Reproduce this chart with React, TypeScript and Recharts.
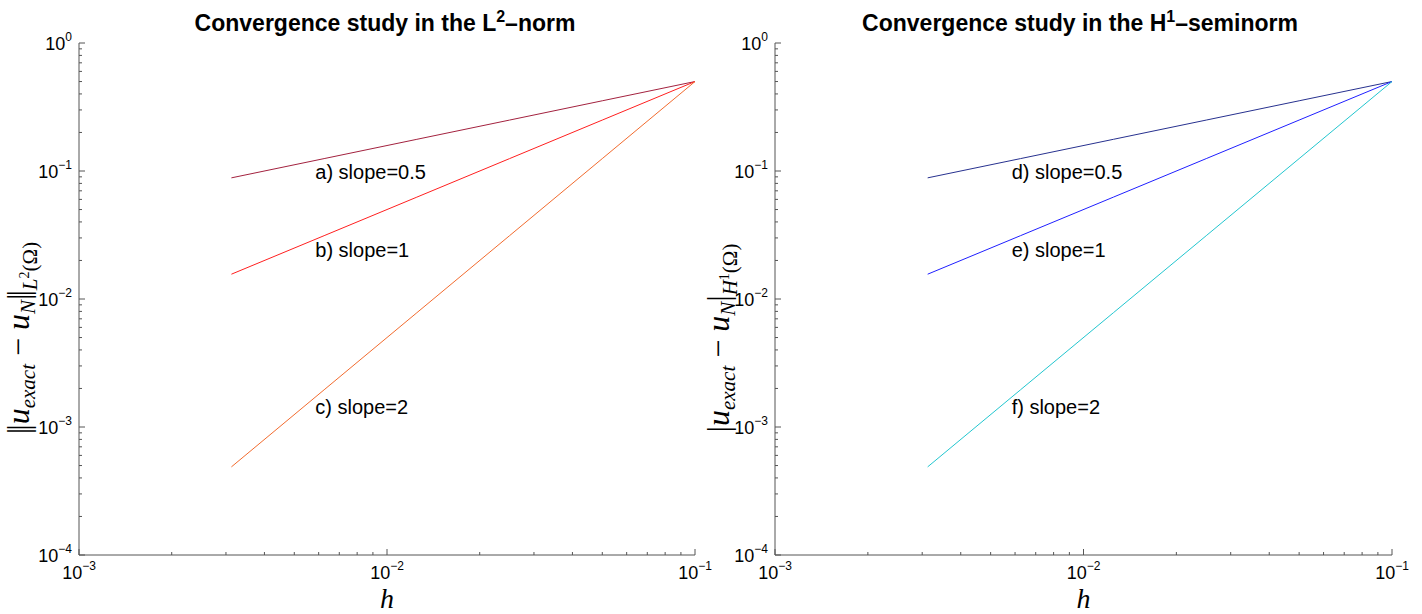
import React from 'react';
import { LineChart, Line, XAxis, YAxis, ReferenceDot } from 'recharts';

// ---- data ----
const hValues = [0.1, 0.05, 0.025, 0.0125, 0.00625, 0.003125];
const slopeHalf = [0.5, 0.3536, 0.25, 0.1768, 0.125, 0.0884];
const slopeOne = [0.5, 0.25, 0.125, 0.0625, 0.03125, 0.015625];
const slopeTwo = [0.5, 0.125, 0.03125, 0.0078125, 0.001953, 0.000488];

const xMajorTicks = [0.001, 0.01, 0.1];
const xMinorTicks = [0.002, 0.003, 0.004, 0.005, 0.006, 0.007, 0.008, 0.009, 0.02, 0.03, 0.04, 0.05, 0.06, 0.07, 0.08, 0.09];
const yMajorTicks = [0.0001, 0.001, 0.01, 0.1, 1];
const yMinorTicks = [
  0.0002, 0.0003, 0.0004, 0.0005, 0.0006, 0.0007, 0.0008, 0.0009,
  0.002, 0.003, 0.004, 0.005, 0.006, 0.007, 0.008, 0.009,
  0.02, 0.03, 0.04, 0.05, 0.06, 0.07, 0.08, 0.09,
  0.2, 0.3, 0.4, 0.5, 0.6, 0.7, 0.8, 0.9,
];

const leftNotes = ['a) slope=0.5', 'b) slope=1', 'c) slope=2'];
const rightNotes = ['d) slope=0.5', 'e) slope=1', 'f) slope=2'];
const noteH = 0.00585;
const noteValues = [0.098, 0.024, 0.00143];

const leftColors = ['#a3223f', '#ff1f1f', '#f26b2e'];
const rightColors = ['#27318f', '#1f1fff', '#22c6cf'];

const rows = hValues.map((h, i) => ({ h, a: slopeHalf[i], b: slopeOne[i], c: slopeTwo[i] }));

const AXIS = '#555';
const SANS = '"Liberation Sans", Arial, Helvetica, sans-serif';
const SERIF = '"Liberation Serif", "DejaVu Serif", serif';

const allX = [...xMajorTicks, ...xMinorTicks].sort((a, b) => a - b);
const allY = [...yMajorTicks, ...yMinorTicks].sort((a, b) => a - b);

const isMajor = (v: number, list: number[]) => list.some((m) => Math.abs(v / m - 1) < 1e-6);
const expOf = (v: number) => Math.round(Math.log10(v));
const expText = (e: number) => (e < 0 ? '\u2212' + Math.abs(e) : String(e));

const TICK_FS = 18;
const SUP_FS = 12;

function BottomTick(props: any) {
  const { x, y, payload } = props;
  const major = isMajor(payload.value, xMajorTicks);
  const len = major ? 6 : 3;
  return (
    <g>
      <line x1={x} y1={y} x2={x} y2={y - len} stroke={AXIS} strokeWidth={1} />
      {major && (
        <text x={x} y={y + 24} textAnchor="middle" fontFamily={SANS} fontSize={TICK_FS} fill="#000">
          10
          <tspan dy={-9} fontSize={SUP_FS}>{expText(expOf(payload.value))}</tspan>
        </text>
      )}
    </g>
  );
}

function TopTick(props: any) {
  const { x, y, payload } = props;
  const major = isMajor(payload.value, xMajorTicks);
  const len = major ? 6 : 3;
  return <line x1={x} y1={y} x2={x} y2={y + len} stroke={AXIS} strokeWidth={1} />;
}

function LeftTick(props: any) {
  const { x, y, payload } = props;
  const major = isMajor(payload.value, yMajorTicks);
  const len = major ? 6 : 3;
  return (
    <g>
      <line x1={x} y1={y} x2={x + len} y2={y} stroke={AXIS} strokeWidth={1} />
      {major && (
        <text x={x - 7} y={y + 7} textAnchor="end" fontFamily={SANS} fontSize={TICK_FS} fill="#000">
          10
          <tspan dy={-9} fontSize={SUP_FS}>{expText(expOf(payload.value))}</tspan>
        </text>
      )}
    </g>
  );
}

function RightTick(props: any) {
  const { x, y, payload } = props;
  const major = isMajor(payload.value, yMajorTicks);
  const len = major ? 6 : 3;
  return <line x1={x} y1={y} x2={x - len} y2={y} stroke={AXIS} strokeWidth={1} />;
}

function XLabel(props: any) {
  const vb = props.viewBox || {};
  const cx = vb.x + vb.width / 2;
  return (
    <text x={cx} y={vb.y + 53} textAnchor="middle" fontFamily={SERIF} fontStyle="italic" fontSize={28} fill="#000">
      h
    </text>
  );
}

function makeYLabel(kind: 'L2' | 'H1', cxOff: number) {
  return (props: any) => {
    const vb = props.viewBox || {};
    const cx = vb.x + cxOff;
    const cy = 338;
    const FS = 32;
    const SFS = 21;
    const bar = kind === 'L2' ? '||' : '|';
    return (
      <text
        transform={`rotate(-90, ${cx}, ${cy})`}
        x={cx}
        y={cy}
        textAnchor="middle"
        fontFamily={SERIF}
        fontSize={FS}
        fill="#000"
      >
        <tspan letterSpacing={-3}>{bar}</tspan>
        <tspan fontStyle="italic" dx={3}>u</tspan>
        <tspan fontStyle="italic" fontSize={SFS} dy={6}>exact</tspan>
        <tspan dy={-6}>{' \u2212 '}</tspan>
        <tspan fontStyle="italic">u</tspan>
        <tspan fontStyle="italic" fontSize={SFS} dy={6}>N</tspan>
        <tspan dy={-6} letterSpacing={-3}>{bar}</tspan>
        <tspan fontStyle="italic" fontSize={SFS} dy={8} dx={3}>{kind === 'L2' ? 'L' : 'H'}</tspan>
        <tspan fontSize={14} dy={-8}>{kind === 'L2' ? '2' : '1'}</tspan>
        <tspan fontSize={SFS} dy={8}>(Ω)</tspan>
      </text>
    );
  };
}

function NoteShape(text: string) {
  return (p: any) => (
    <text x={p.cx} y={p.cy} dy={7} textAnchor="start" fontFamily={SANS} fontSize={20} fill="#000">
      {text}
    </text>
  );
}

function Panel(props: {
  left: number;
  width: number;
  yAxisWidth: number;
  rightMargin: number;
  colors: string[];
  notes: string[];
  kind: 'L2' | 'H1';
  yLabelOff: number;
}) {
  const { left, width, yAxisWidth, rightMargin, colors, notes, kind, yLabelOff } = props;
  return (
    <div style={{ position: 'absolute', left, top: 0 }}>
      <LineChart width={width} height={614} data={rows} margin={{ top: 43, right: rightMargin, bottom: 0, left: 0 }}>
        <XAxis
          dataKey="h"
          type="number"
          scale="log"
          domain={[0.001, 0.1]}
          allowDataOverflow
          ticks={allX}
          interval={0}
          tickSize={0}
          tickMargin={0}
          tickLine={false}
          tick={<BottomTick />}
          axisLine={{ stroke: AXIS, strokeWidth: 1 }}
          height={59}
          label={{ content: XLabel }}
        />
        <XAxis
          xAxisId="top"
          orientation="top"
          dataKey="h"
          type="number"
          scale="log"
          domain={[0.001, 0.1]}
          allowDataOverflow
          ticks={allX}
          interval={0}
          tickSize={0}
          tickMargin={0}
          tickLine={false}
          tick={<TopTick />}
          axisLine={{ stroke: AXIS, strokeWidth: 1 }}
          height={0}
        />
        <YAxis
          type="number"
          scale="log"
          domain={[0.0001, 1]}
          allowDataOverflow
          ticks={allY}
          interval={0}
          tickSize={0}
          tickMargin={0}
          tickLine={false}
          tick={<LeftTick />}
          axisLine={{ stroke: AXIS, strokeWidth: 1 }}
          width={yAxisWidth}
          label={{ content: makeYLabel(kind, yLabelOff) }}
        />
        <YAxis
          yAxisId="right"
          orientation="right"
          type="number"
          scale="log"
          domain={[0.0001, 1]}
          allowDataOverflow
          ticks={allY}
          interval={0}
          tickSize={0}
          tickMargin={0}
          tickLine={false}
          tick={<RightTick />}
          axisLine={{ stroke: AXIS, strokeWidth: 1 }}
          width={0}
        />
        <Line dataKey="a" stroke={colors[0]} strokeWidth={1} dot={false} isAnimationActive={false} />
        <Line dataKey="b" stroke={colors[1]} strokeWidth={1} dot={false} isAnimationActive={false} />
        <Line dataKey="c" stroke={colors[2]} strokeWidth={1} dot={false} isAnimationActive={false} />
        {notes.map((t, i) => (
          <ReferenceDot key={t} x={noteH} y={noteValues[i]} r={0} shape={NoteShape(t)} />
        ))}
      </LineChart>
    </div>
  );
}

function Titles() {
  const style: any = { fontFamily: SANS, fontWeight: 'bold', fontSize: 23, fill: '#000' };
  return (
    <svg width={1422} height={40} style={{ position: 'absolute', left: 0, top: 0 }}>
      <text x={385} y={31} textAnchor="middle" style={style}>
        Convergence study in the L
        <tspan dy={-9} fontSize={16}>2</tspan>
        <tspan dy={9}>{'\u2013norm'}</tspan>
      </text>
      <text x={1080} y={31} textAnchor="middle" style={style}>
        Convergence study in the H
        <tspan dy={-9} fontSize={16}>1</tspan>
        <tspan dy={9}>{'\u2013seminorm'}</tspan>
      </text>
    </svg>
  );
}

export default function App() {
  return (
    <div style={{ position: 'absolute', left: 0, top: 0, width: 1422, height: 614, background: '#fff' }}>
      <Panel
        left={700}
        width={722}
        yAxisWidth={75}
        rightMargin={30}
        colors={rightColors}
        notes={rightNotes}
        kind="H1"
        yLabelOff={29}
      />
      <Panel
        left={0}
        width={740}
        yAxisWidth={79}
        rightMargin={45}
        colors={leftColors}
        notes={leftNotes}
        kind="L2"
        yLabelOff={29}
      />
      <Titles />
    </div>
  );
}
